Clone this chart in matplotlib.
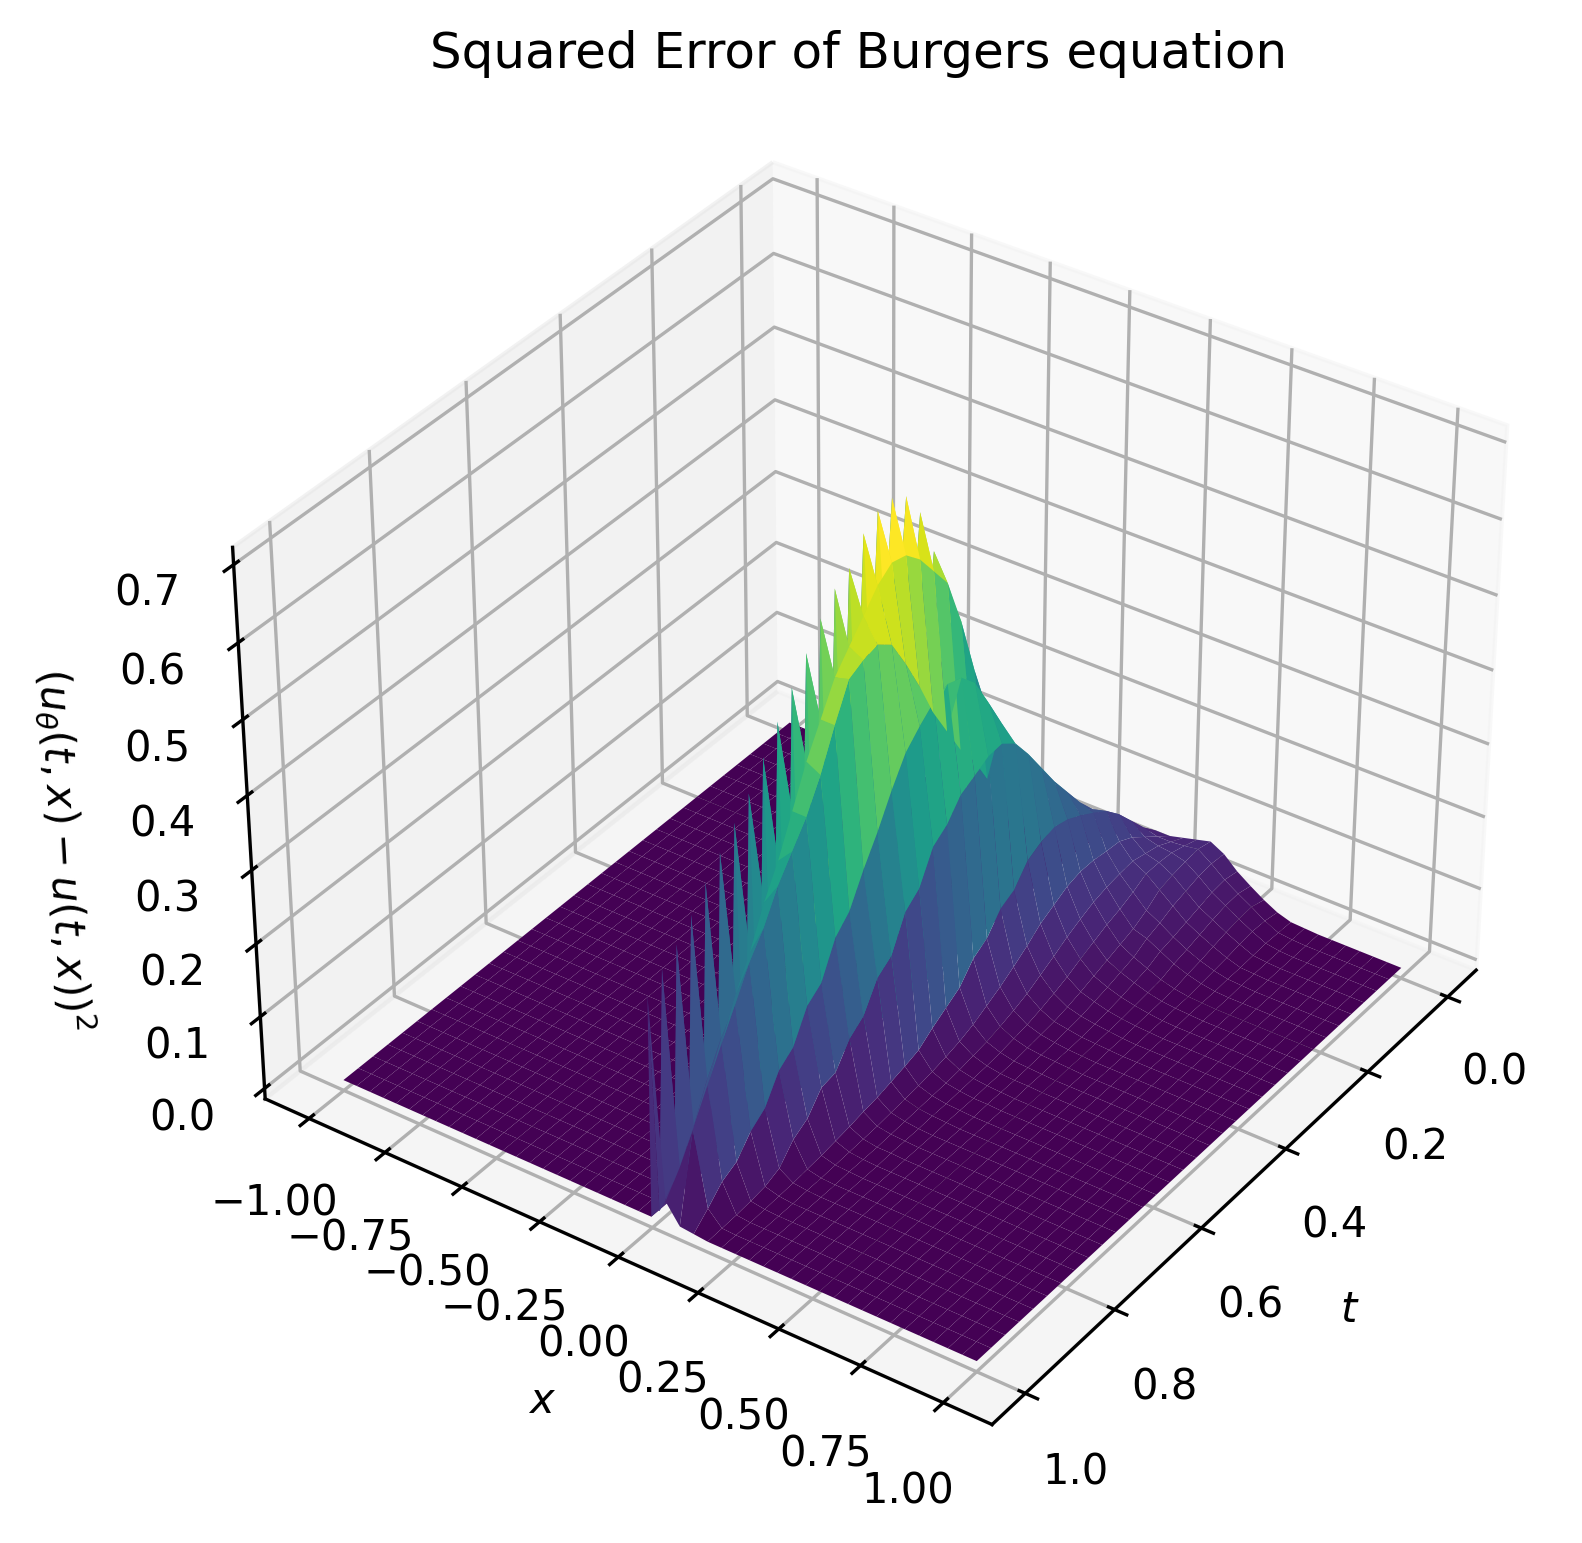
import numpy as np
import matplotlib
matplotlib.use("Agg")
import matplotlib.pyplot as plt

t_coarse = np.linspace(1, 0, 33)           # from t=1 down to t=0
t_fine = np.linspace(1, 0, 65)
x_grid = np.linspace(-1, 1, 47)
k_shock = 23
x_step_wall = 0.003

# Tall thin spikes on the shock column, per t row
spike_tips = [.301,.321,.337,.36,.387,.411,.434,.457,.489,.52,.549,.579,.609,.633,.645,.675,.69,.692,.68,.645,.58,.47,.376,.317,.263,.213,.183,.134,.10,.06,.02,.01,0]
spike_valleys = [0,0,0,0,0,.01,.03,.05,.08,.10,.14,.19,.25,.32,.40,.47,.54,.55,.52,.48,.42,.33,.26,.20,.16,.12,.09,.07,.05,.02,.01,0]

# Columns right of the shock, per t row (t=1 first)
col_01 = [.03,.06,.10,.14,.18,.23,.27,.32,.36,.41,.46,.50,.54,.565,.59,.615,.63,.625,.605,.575,.545,.48,.40,.33,.27,.22,.17,.12,.08,.05,.03,.025,.02]
col_01_mid = [.045,.08,.12,.16,.205,.25,.295,.34,.385,.435,.48,.52,.55,.58,.60,.62,.63,.615,.59,.56,.51,.44,.365,.30,.245,.195,.145,.10,.065,.04,.028,.022]
col_02 = [.004,.12,.17,.21,.24,.28,.31,.35,.38,.41,.45,.50,.545,.555,.56,.545,.505,.46,.41,.37,.33,.30,.26,.22,.19,.16,.13,.10,.08,.06,.05,.04,.03]
col_03 = [.002,.02,.04,.05,.075,.09,.125,.14,.18,.195,.24,.26,.30,.335,.375,.41,.43,.447,.456,.449,.427,.386,.343,.30,.27,.235,.20,.165,.13,.10,.07,.05,.035]
col_04 = [0,.001,.002,.004,.007,.015,.038,.05,.076,.08,.11,.125,.161,.175,.219,.235,.276,.29,.315,.325,.336,.338,.323,.293,.259,.225,.195,.165,.14,.115,.09,.065,.045]
col_05 = [0,0,0,.001,.002,.003,.005,.007,.01,.013,.017,.02,.025,.03,.036,.05,.062,.074,.098,.11,.135,.145,.17,.18,.185,.18,.17,.158,.145,.125,.10,.075,.055]
col_06 = [0,0,0,0,0,.001,.001,.002,.003,.004,.005,.007,.009,.011,.014,.018,.023,.03,.04,.05,.062,.075,.09,.10,.11,.115,.115,.112,.11,.10,.085,.07,.055]
col_07 = [0,0,0,0,0,0,0,.001,.001,.001,.002,.003,.004,.005,.006,.008,.011,.014,.019,.025,.032,.042,.052,.063,.072,.08,.085,.088,.09,.085,.08,.07,.06]
col_08 = [0,0,0,0,0,0,0,0,0,.001,.001,.001,.002,.002,.003,.004,.005,.007,.01,.013,.018,.024,.031,.04,.048,.056,.062,.07,.08,.08,.078,.072,.065]
col_09 = [0,0,0,0,0,0,0,0,0,0,0,0,.001,.001,.001,.002,.002,.003,.005,.007,.009,.013,.018,.024,.03,.036,.042,.052,.065,.07,.073,.075,.07]
col_10 = [0,0,0,0,0,0,0,0,0,0,0,0,0,0,.001,.001,.001,.002,.003,.004,.006,.008,.012,.016,.021,.026,.036,.042,.05,.055,.06,.062,.06]
col_11 = [0,0,0,0,0,0,0,0,0,0,0,0,0,0,0,0,.001,.001,.002,.002,.003,.005,.007,.01,.014,.018,.026,.03,.035,.04,.045,.047,.043]
col_12 = [0,0,0,0,0,0,0,0,0,0,0,0,0,0,0,0,0,0,.001,.001,.002,.003,.004,.006,.008,.01,.016,.02,.025,.03,.034,.035,.03]
col_13 = [0,0,0,0,0,0,0,0,0,0,0,0,0,0,0,0,0,0,0,0,.001,.001,.002,.003,.004,.005,.009,.012,.016,.02,.023,.024,.018]
col_14 = [0,0,0,0,0,0,0,0,0,0,0,0,0,0,0,0,0,0,0,0,0,0,.001,.001,.002,.002,.004,.006,.008,.011,.013,.012,.008]
col_15 = [0,0,0,0,0,0,0,0,0,0,0,0,0,0,0,0,0,0,0,0,0,0,0,0,.001,.001,.001,.002,.002,.003,.004,.003,.002]
col_16 = [0,0,0,0,0,0,0,0,0,0,0,0,0,0,0,0,0,0,0,0,0,0,0,0,0,0,0,.001,.001,.001,.001,.001,.001]
body_cols = [col_01,col_02,col_03,col_04,col_05,col_06,col_07,col_08,col_09,col_10,col_11,col_12,col_13,col_14,col_15,col_16]

x_ticks = [-1.0,-0.75,-0.5,-0.25,0.0,0.25,0.5,0.75,1.0]
t_ticks = [0.0,0.2,0.4,0.6,0.8,1.0]
z_ticks = [0.0,0.1,0.2,0.3,0.4,0.5,0.6,0.7]
z_limits = (-0.0146, 0.722)
color_top = 0.62

fig = plt.figure(figsize=(1582/300, 1543/300), dpi=300)
ax = fig.add_axes([0.105, 0.042, 0.876, 0.898], projection='3d')
ax.computed_zorder = False

surf = dict(cmap='viridis', vmin=0, vmax=color_top, rstride=1, cstride=1)

# far, flat part
x_left = np.append(x_grid[:k_shock], x_grid[k_shock]-x_step_wall)
T, X = np.meshgrid(t_coarse, x_left, indexing='ij')
ax.plot_surface(T, X, np.zeros_like(T), zorder=1, **surf)

# spike band on a finer t grid
x_band = np.array([x_grid[k_shock]-x_step_wall, x_grid[k_shock], x_grid[k_shock+1]])
T, X = np.meshgrid(t_fine, x_band, indexing='ij')
Z = np.zeros_like(T)
Z[0::2, 1] = spike_tips
Z[1::2, 1] = spike_valleys
Z[0::2, 2] = col_01
Z[1::2, 2] = col_01_mid
ax.plot_surface(T, X, Z, zorder=2, **surf)

# near part
x_right = x_grid[k_shock+1:]
T, X = np.meshgrid(t_coarse, x_right, indexing='ij')
Z = np.zeros_like(T)
for k, col in enumerate(body_cols):
    Z[:, k] = col
ax.plot_surface(T, X, Z, zorder=3, **surf)

ax.view_init(35, 35)
ax.set_zlim(*z_limits)
ax.set_xticks(t_ticks)
ax.set_yticks(x_ticks)
ax.set_zticks(z_ticks)
ax.set_xlabel('$t$')
ax.set_ylabel('$x$')
ax.set_zlabel(r'$(u_\theta(t,x) - u(t,x))^2$')
ax.set_title('Squared Error of Burgers equation')
fig.savefig('out.png', dpi=300)
